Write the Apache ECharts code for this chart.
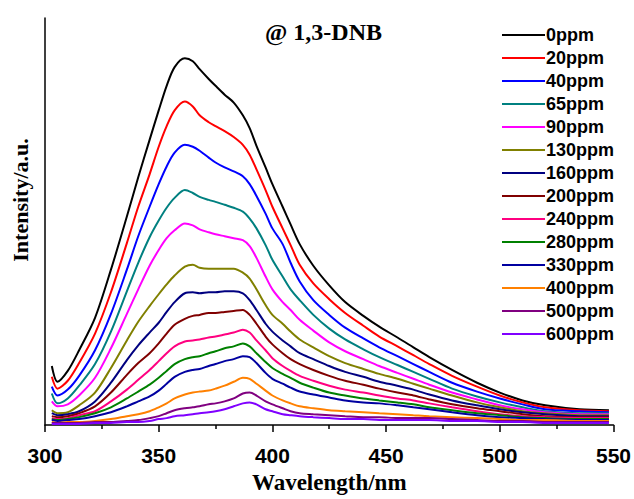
<!DOCTYPE html>
<html>
<head>
<meta charset="utf-8">
<script src="https://cdn.jsdelivr.net/npm/echarts@6/dist/echarts.min.js"></script>
<style>html,body{margin:0;padding:0;background:#fff;}#c{width:634px;height:499px;}</style>
</head>
<body>
<div id="c"></div>
<script>
// Wavelength sample points (nm)
const wavelengths = [303,305.5,310,315,322,329,336,341,346,350,353.5,357,361.5,365,368,372,375,379,383,387,390,393,397,400,404.5,408,412,418,425,432,440,447,455,462,469,479,490,500,510,520,535,548];

// Series names (legend) and colours
const seriesNames = ['0ppm','20ppm','40ppm','65ppm','90ppm','130ppm','160ppm','200ppm','240ppm','280ppm','330ppm','400ppm','500ppm','600ppm'];
const seriesColors = ['#000000','#ff0000','#0000ff','#008080','#ff00ff','#808000','#000080','#800000','#ff0080','#008000','#0000a0','#ff8000','#800080','#8000ff'];

// Intensity (a.u.) for each concentration
const ppm0   = [60,44,55,76,109,158,212,252,290,320,345,364,373,370,362,352,345,336,328,315,302,284,262,245,222,204,184,162,142,125,111,100,89,79,69,56,43,33,25,20,16,15];
const ppm20  = [49,37,45,63,93,135,185,222,255,283,304,320,329,324,315,308,304,299,293,285,275,260,239,222,200,183,163,144,128,114,101,90,80,71,62,50,39,30,23,18,15,14];
const ppm40  = [39,30,36,50,76,113,158,192,222,245,263,277,285,283,279,272,267,262,258,253,245,233,215,200,184,165,146,127,112,99,88,79,70,62,54,43,34,27,21,16,14,13];
const ppm65  = [32,22,27,40,62,95,136,165,191,208,221,231,239,236,232,229,227,224,221,217,210,200,183,168,151,138,127,112,98,87,77,69,61,54,47,37,29,23,18,14,12,12];
const ppm90  = [24,19,21,30,48,78,113,138,162,178,190,198,205,203,199,196,194,192,190,188,182,170,151,138,125,117,107,96,84,75,67,60,53,47,41,33,26,20,16,13,11,11];
const ppm130 = [15,12,13,20,33,58,86,105,121,133,143,152,161,163,160,159,159,159,159,155,149,138,122,112,103,95,87,79,70,63,57,52,47,42,37,30,23,18,14,12,10,10];
const ppm160 = [12,10,11,14,24,43,66,81,94,104,115,125,134,135,134,135,135,136,136,134,127,117,103,95,86,80,73,67,60,54,49,44,40,36,31,25,20,16,13,11,9,9];
const ppm200 = [9,8,9,12,19,33,51,63,73,83,93,102,108,111,112,114,114,115,116,117,112,103,90,82,73,67,62,56,50,45,41,37,33,30,26,21,17,14,11,9,8,8];
const ppm240 = [7,6,7,10,14,24,36,46,56,65,73,80,85,86,87,89,90,92,94,97,94,86,76,68,60,55,50,45,40,36,33,30,27,25,22,18,14,11,9,8,7,7];
const ppm280 = [6,5,6,8,12,18,27,34,41,48,55,62,67,69,70,73,75,78,80,83,80,73,64,58,52,48,43,38,33,30,27,25,23,21,18,15,12,10,8,7,6,6];
const ppm330 = [5,4,5,6,9,13,19,24,29,35,42,49,54,56,57,60,62,65,67,70,69,63,53,47,42,38,34,31,28,25,23,22,20,18,16,13,10,8,7,6,5,5];
const ppm400 = [3,2,3,3,4,6,9,11,14,18,22,27,31,33,34,35,37,40,44,48,47,42,35,30,25,22,19,17,15,14,13,12,11,10,9,8,7,6,5,5,4,4];
const ppm500 = [2,2,2,2,3,3,4,5,7,9,12,15,17,18,19,21,22,24,27,32,33,30,24,21,17,14,12,11,10,9,8,8,7,7,7,6,5,4,4,3,3,3];
const ppm600 = [1,1,1,1,2,2,3,3,4,6,7,9,10,11,12,13,14,16,19,22,23,21,16,14,11,10,9,8,7,6,6,5,5,5,5,4,4,3,3,2,2,2];

const seriesValues = [ppm0,ppm20,ppm40,ppm65,ppm90,ppm130,ppm160,ppm200,ppm240,ppm280,ppm330,ppm400,ppm500,ppm600];

// Axis ticks
const xTicks = [300,350,400,450,500,550];

const serifBold = "'Liberation Serif','Times New Roman',serif";
const sansBold = "'Liberation Sans',Arial,sans-serif";

const chart = echarts.init(document.getElementById('c'), null, {renderer: 'svg'});
chart.setOption({
  backgroundColor: '#ffffff',
  animation: false,
  graphic: [
    {
      type: 'text', left: 265, top: 20,
      style: {text: '@ 1,3-DNB', font: "bold 24px 'Liberation Serif','Times New Roman',serif", fill: '#000'}
    },
    {
      type: 'text', x: 20, y: 200, rotation: Math.PI / 2,
      style: {text: 'Intensity/a.u.', font: "bold 22px 'Liberation Serif','Times New Roman',serif", fill: '#000', align: 'center', verticalAlign: 'middle'}
    }
  ],
  legend: {
    orient: 'vertical', left: 497, top: 21,
    icon: 'rect', itemWidth: 43, itemHeight: 2, itemGap: 5,
    itemStyle: {borderWidth: 0},
    data: seriesNames,
    textStyle: {fontFamily: sansBold, fontWeight: 'bold', fontSize: 18, color: '#000', padding: [0, 0, 0, -4]}
  },
  grid: {left: 45, right: 19, top: 18, bottom: 62},
  xAxis: {
    type: 'value', min: xTicks[0], max: xTicks[xTicks.length-1], interval: 50,
    name: 'Wavelength/nm', nameLocation: 'middle', nameGap: 46,
    nameTextStyle: {fontFamily: serifBold, fontWeight: 'bold', fontSize: 23, color: '#000'},
    axisLine: {lineStyle: {color: '#000', width: 1.5}},
    axisTick: {show: true, inside: false, length: 7, lineStyle: {color: '#000', width: 1.5}},
    minorTick: {show: true, splitNumber: 2, length: 4, lineStyle: {color: '#000', width: 1.5}},
    axisLabel: {margin: 20, fontFamily: sansBold, fontWeight: 'bold', fontSize: 21, color: '#000'},
    splitLine: {show: false}
  },
  yAxis: {
    type: 'value', min: 0, max: 414,
    axisLine: {show: true, lineStyle: {color: '#000', width: 1.5}},
    axisTick: {show: false}, axisLabel: {show: false}, splitLine: {show: false}
  },
  series: seriesNames.map((n, i) => ({
    name: n, type: 'line', symbol: 'none', smooth: 0.3,
    color: seriesColors[i],
    lineStyle: {width: 2, color: seriesColors[i]},
    data: wavelengths.map((w, j) => [w, seriesValues[i][j]])
  }))
});
</script>
</body>
</html>
